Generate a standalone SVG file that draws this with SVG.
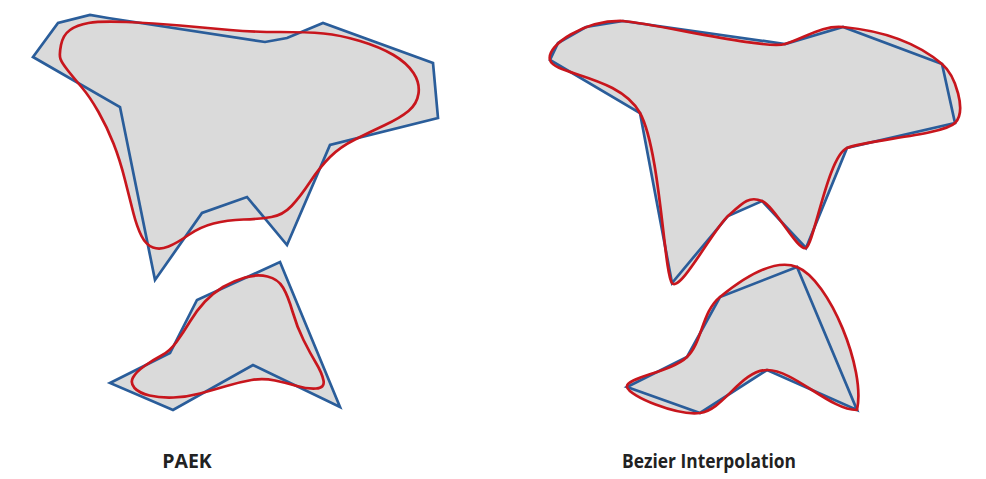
<svg xmlns="http://www.w3.org/2000/svg" width="986" height="479" viewBox="0 0 986 479">
<style>
.fill{fill:#dadada;stroke:none}
.blue{fill:none;stroke:#2a5d9a;stroke-width:2.7;stroke-linejoin:miter}
.red{fill:none;stroke:#c8161d;stroke-width:2.7;stroke-linejoin:round}
.lbl{font-family:"Open Sans","Liberation Sans",sans-serif;font-weight:700;font-size:19.5px;fill:#222;text-anchor:middle}
</style>
<rect width="986" height="479" fill="#ffffff"/>
<g id="paek">
  <g id="paek-top">
    <polygon class="fill" points="33,57 58,23 90,15 108,18 265,42 287,38 323,23 433,63 438,118 330,145 287,245 247,197 202,213 155,280 120,107"/>
    <path class="fill" d="M 60.5,59 Q 59,55 61,45 T 70,30 T 88.5,23 T 126.5,22 T 180,25.5 T 230,30 T 280,32 T 323.5,33.5 T 360,41 T 393.5,55 T 413.5,73 T 418.5,93.5 T 408.5,111 T 385,125 T 355,139.5 T 330,157 T 310,182 T 291.5,206 T 271.5,217 T 243.5,219.5 T 213.5,223.5 T 188.5,235 T 168.5,246.5 T 153,247.5 T 141.5,236 T 133.5,213.5 T 125,180 T 113.5,143.5 T 98.5,112 T 81.5,87 T 67.5,70 T 60.5,59 Z"/>
    <polygon class="blue" points="33,57 58,23 90,15 108,18 265,42 287,38 323,23 433,63 438,118 330,145 287,245 247,197 202,213 155,280 120,107"/>
    <path class="red" d="M 60.5,59 Q 59,55 61,45 T 70,30 T 88.5,23 T 126.5,22 T 180,25.5 T 230,30 T 280,32 T 323.5,33.5 T 360,41 T 393.5,55 T 413.5,73 T 418.5,93.5 T 408.5,111 T 385,125 T 355,139.5 T 330,157 T 310,182 T 291.5,206 T 271.5,217 T 243.5,219.5 T 213.5,223.5 T 188.5,235 T 168.5,246.5 T 153,247.5 T 141.5,236 T 133.5,213.5 T 125,180 T 113.5,143.5 T 98.5,112 T 81.5,87 T 67.5,70 T 60.5,59 Z"/>
  </g>
  <g id="paek-bottom">
    <polygon class="fill" points="110,383 170,353 197,300 280,262 340,407 253,365 173,410"/>
    <path class="fill" d="M 134.5,388 Q 130,383 133,377.5 T 144.5,366 T 161.5,355.5 T 176.5,342 T 190,321.5 T 205,301.5 T 223,287 T 245,277.5 T 267.5,276.5 T 283,287.5 T 292.5,311.5 T 303.5,340 T 316,363 T 323.5,380.5 T 316,388.5 T 297,386 T 275,380.5 T 251.5,380 T 226.5,386 T 200,393.5 T 173.5,397.5 T 149.5,395.5 T 134.5,388 Z"/>
    <polygon class="blue" points="110,383 170,353 197,300 280,262 340,407 253,365 173,410"/>
    <path class="red" d="M 134.5,388 Q 130,383 133,377.5 T 144.5,366 T 161.5,355.5 T 176.5,342 T 190,321.5 T 205,301.5 T 223,287 T 245,277.5 T 267.5,276.5 T 283,287.5 T 292.5,311.5 T 303.5,340 T 316,363 T 323.5,380.5 T 316,388.5 T 297,386 T 275,380.5 T 251.5,380 T 226.5,386 T 200,393.5 T 173.5,397.5 T 149.5,395.5 T 134.5,388 Z"/>
  </g>
  <text class="lbl" x="187" y="468">PAEK</text>
</g>
<g id="bezier">
  <g id="bezier-top">
    <polygon class="fill" points="550,60 558,43 586,27 623,21 785,44 843,27 942,64 955,123 847,148 806,248 762,201 728,216 672,283 640,113"/>
    <path class="fill" d="M 550,60 C 546,45 585,20 623,21 C 657.5,24 765,50 785,44 C 805,38 822,25 843,27 C 878,30.3 915,41 942,64 C 955.5,75.5 967,111 955,123 C 943,135 866,140 847,148 C 828,156 814,244 806,248 C 798,252 775,206.3 762,201 C 749,195.7 743,202.3 728,216 C 713,229.7 680,293 672,283 C 664,273 660.3,150.2 640,113 C 619.7,75.8 554,75 550,60 Z"/>
    <polygon class="blue" points="550,60 558,43 586,27 623,21 785,44 843,27 942,64 955,123 847,148 806,248 762,201 728,216 672,283 640,113"/>
    <path class="red" d="M 550,60 C 546,45 585,20 623,21 C 657.5,24 765,50 785,44 C 805,38 822,25 843,27 C 878,30.3 915,41 942,64 C 955.5,75.5 967,111 955,123 C 943,135 866,140 847,148 C 828,156 814,244 806,248 C 798,252 775,206.3 762,201 C 749,195.7 743,202.3 728,216 C 713,229.7 680,293 672,283 C 664,273 660.3,150.2 640,113 C 619.7,75.8 554,75 550,60 Z"/>
  </g>
  <g id="bezier-bottom">
    <polygon class="fill" points="627,387 700,413 767,370 857,410 797,267 720,297 687,357"/>
    <path class="fill" d="M 627,387 C 629.2,396.3 676.7,415.8 700,413 C 723.3,410.2 740.8,370.5 767,370 C 793.2,369.5 830.8,410.5 857,410 C 866,370 829.5,280 797,267 C 772,257 738.3,282 720,297 C 701.7,311.7 702.5,342 687,357 C 671.5,372 624.8,377.7 627,387 Z"/>
    <polygon class="blue" points="627,387 700,413 767,370 857,410 797,267 720,297 687,357"/>
    <path class="red" d="M 627,387 C 629.2,396.3 676.7,415.8 700,413 C 723.3,410.2 740.8,370.5 767,370 C 793.2,369.5 830.8,410.5 857,410 C 866,370 829.5,280 797,267 C 772,257 738.3,282 720,297 C 701.7,311.7 702.5,342 687,357 C 671.5,372 624.8,377.7 627,387 Z"/>
  </g>
  <text class="lbl" x="709" y="468" textLength="174" lengthAdjust="spacingAndGlyphs">Bezier Interpolation</text>
</g>
</svg>
